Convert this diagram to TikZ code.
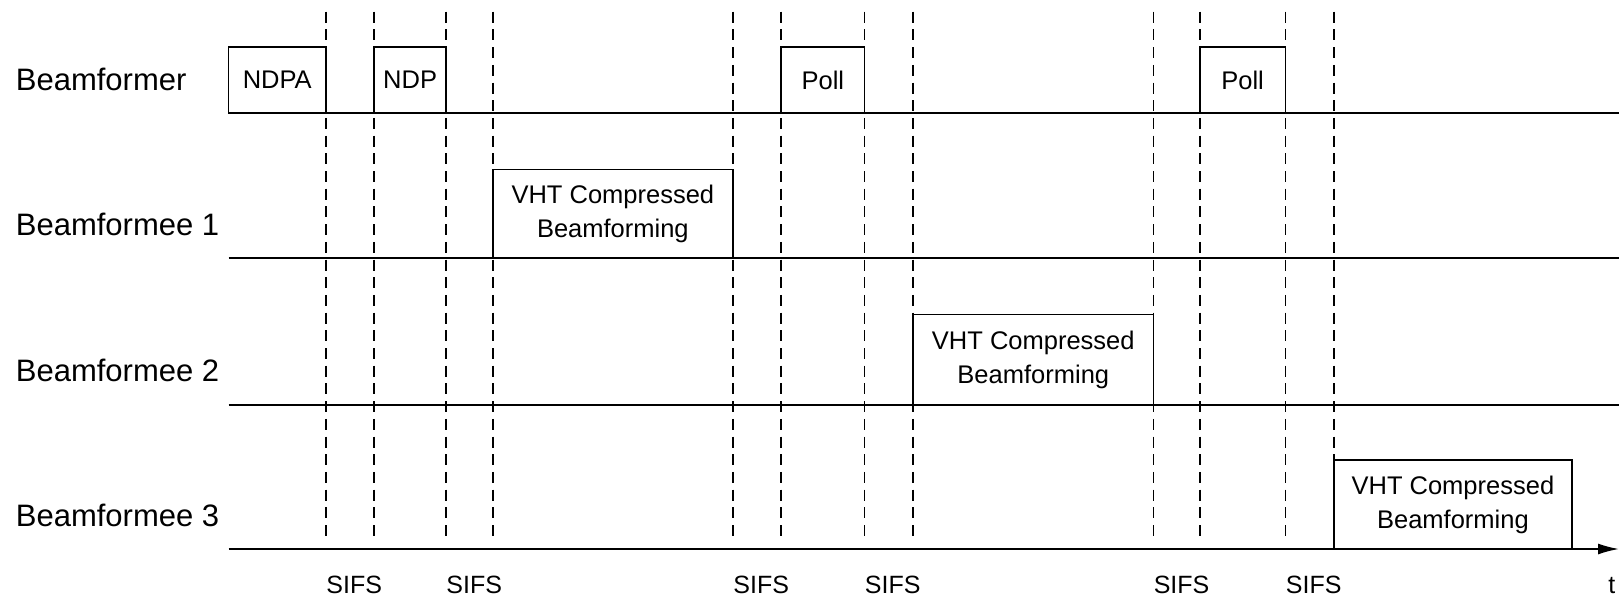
\documentclass[tikz,border=0pt]{standalone}
\usepackage{fontspec}
\setmainfont{Liberation Sans}
\usetikzlibrary{arrows.meta}

\begin{document}
\begin{tikzpicture}[x=0.5pt,y=-0.5pt,
  lane/.style={line width=0.85pt},
  sifsline/.style={line width=0.85pt, dash pattern=on 5.5pt off 3.35pt},
  frame/.style={draw, line width=0.85pt, fill=white, inner sep=0pt, align=center,
                font=\fontsize{12.75}{17}\selectfont},
  who/.style={anchor=base west, inner sep=0pt, font=\fontsize{15.5}{18}\selectfont},
  gaplabel/.style={anchor=base west, inner sep=0pt, font=\fontsize{12.5}{15}\selectfont}]

\useasboundingbox (0,0) rectangle (1619,596);

% SIFS boundaries (dashed)
\foreach \n/\x in {1/326, 2/374.3, 3/446, 4/492.7, 5/733, 6/781.3,
                   7/864.5, 8/913.2, 9/1153.4, 10/1199.8, 11/1285.5, 12/1333.8} {
  \coordinate (d\n t) at (\x,11.7);
  \coordinate (d\n b) at (\x,540.7);
  \draw[sifsline] (d\n t) -- (d\n b);
}

% station timelines
\coordinate (l0s) at (228.5,113.3); \coordinate (l0e) at (1619,113.3);
\coordinate (l1s) at (228.5,257.7); \coordinate (l1e) at (1619,257.7);
\coordinate (l2s) at (228.5,404.7); \coordinate (l2e) at (1619,404.7);
\coordinate (l3s) at (228.5,549);   \coordinate (l3e) at (1619,549);
\draw[lane] (l0s) -- (l0e);
\draw[lane] (l1s) -- (l1e);
\draw[lane] (l2s) -- (l2e);
\draw[lane, -{Latex[length=10.5pt,width=5.5pt]}] (l3s) -- (l3e);

% station names
\node[who] (bfr)  at (15.5,90.7)  {Beamformer};
\node[who] (bfe1) at (15.5,235)   {Beamformee 1};
\node[who] (bfe2) at (15.5,381.7) {Beamformee 2};
\node[who] (bfe3) at (15.5,526.7) {Beamformee 3};

% frames
\node[frame, minimum width=48.75pt, minimum height=33.3pt] (ndpa)  at (277.25,80)   {NDPA};
\node[frame, minimum width=35.85pt, minimum height=33.3pt] (ndp)   at (410.15,80)   {NDP};
\node[frame, minimum width=41.6pt,  minimum height=33.3pt] (poll1) at (822.9,80)    {Poll};
\node[frame, minimum width=42.85pt, minimum height=33.3pt] (poll2) at (1242.65,80)  {Poll};
\node[frame, minimum width=120.15pt, minimum height=44.1pt] (rep1) at (612.85,213.6) {VHT Compressed\\Beamforming};
\node[frame, minimum width=120.1pt,  minimum height=45.1pt] (rep2) at (1033.3,359.6) {VHT Compressed\\Beamforming};
\node[frame, minimum width=119.1pt,  minimum height=44.5pt] (rep3) at (1452.9,504.5) {VHT Compressed\\Beamforming};

% interframe spaces and time axis label
\node[gaplabel] (s1) at (326,593)    {SIFS};
\node[gaplabel] (s2) at (446,593)    {SIFS};
\node[gaplabel] (s3) at (733,593)    {SIFS};
\node[gaplabel] (s4) at (864.5,593)  {SIFS};
\node[gaplabel] (s5) at (1153.4,593) {SIFS};
\node[gaplabel] (s6) at (1285.5,593) {SIFS};
\node[gaplabel] (tt) at (1608,593)   {t};
\end{tikzpicture}
\end{document}
